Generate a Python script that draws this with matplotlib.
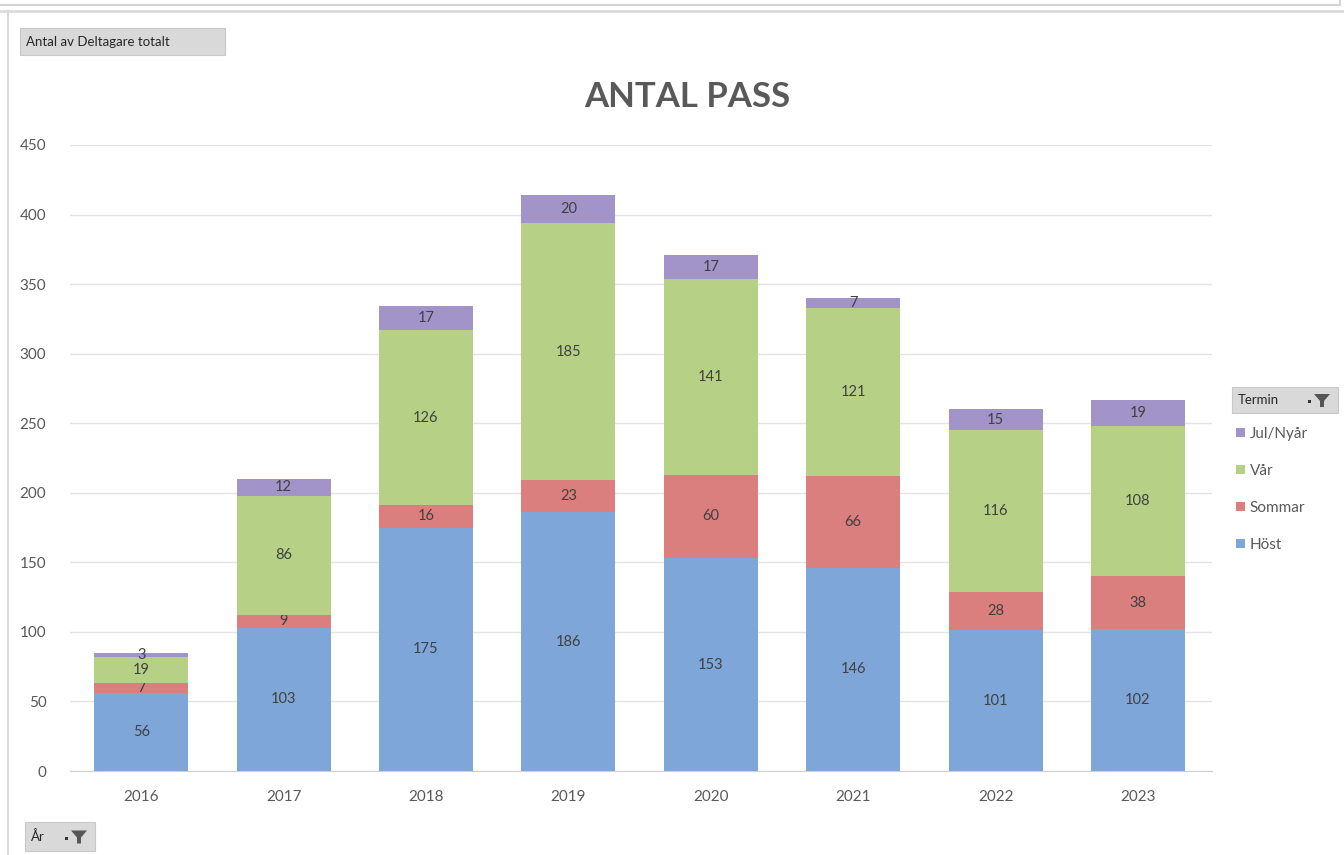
import matplotlib
matplotlib.use("Agg")
import matplotlib.pyplot as plt
from matplotlib.patches import Rectangle, Polygon
import numpy as np

years = ["2016", "2017", "2018", "2019", "2020", "2021", "2022", "2023"]
host = [56, 103, 175, 186, 153, 146, 101, 102]
sommar = [7, 9, 16, 23, 60, 66, 28, 38]
var = [19, 86, 126, 185, 141, 121, 116, 108]
jul = [3, 12, 17, 20, 17, 7, 15, 19]
series_names = ["Höst", "Sommar", "Vår", "Jul/Nyår"]
colors = ["#7ea6d8", "#da7e7e", "#b6d186", "#a294c8"]
yticks = [0, 50, 100, 150, 200, 250, 300, 350, 400, 450]

W, H = 1344, 855
plt.rcParams['font.family'] = ['Lato', 'DejaVu Sans']
fig = plt.figure(figsize=(W / 100, H / 100), dpi=100)
fig.patch.set_facecolor("white")

def fx(px):
    return px / W

def fy(py):
    return 1 - py / H

ax = fig.add_axes([fx(70), fy(771), fx(1212) - fx(70), fy(145) - fy(771)])
x = np.arange(len(years))
bottom = np.zeros(len(years))
containers = []
for vals, name, c in zip([host, sommar, var, jul], series_names, colors):
    bc = ax.bar(x, vals, width=0.66, bottom=bottom, color=c, label=name, zorder=3)
    containers.append(bc)
    ax.bar_label(bc, label_type="center", color="#404040", fontsize=10.5)
    bottom = bottom + np.array(vals)

ax.set_xlim(-0.5, 7.52)
ax.set_ylim(0, 450)
ax.set_yticks(yticks)
ax.set_xticks(x)
ax.set_xticklabels(years)
ax.grid(axis="y", color="#e3e3e3", linewidth=1, zorder=0)
for s in ["top", "right", "left"]:
    ax.spines[s].set_visible(False)
ax.spines["bottom"].set_color("#d0d0d0")
ax.tick_params(axis="both", length=0, colors="#595959", labelsize=11)
ax.tick_params(axis="y", pad=17)
ax.tick_params(axis="x", pad=14)

fig.text(fx(687), fy(97), "ANTAL PASS", ha="center", va="center",
         fontsize=25, fontweight="bold", color="#595959")

handles = containers[::-1]
leg = ax.legend(handles, [h.get_label() for h in handles], loc="upper left",
                bbox_to_anchor=(fx(1236), fy(427)), bbox_transform=fig.transFigure,
                frameon=False, handlelength=0.6, handleheight=0.6,
                handletextpad=0.3, labelspacing=1.5, fontsize=11,
                borderaxespad=0, borderpad=0)
for t in leg.get_texts():
    t.set_color("#595959")

# frame lines
fig.add_artist(Rectangle((fx(-2), fy(5)), fx(1342), fy(-5) - fy(5), transform=fig.transFigure,
                         facecolor="white", edgecolor="#d4d4d4", linewidth=1.5))
fig.add_artist(plt.Line2D([0, 1], [fy(11), fy(11)], transform=fig.transFigure,
                          color="#dadada", linewidth=2))
fig.add_artist(plt.Line2D([fx(8), fx(8)], [fy(11), 0], transform=fig.transFigure,
                          color="#dadada", linewidth=1.5))

def button(x0, y0, x1, y1, text, icon=False, tx=None):
    fig.add_artist(Rectangle((fx(x0), fy(y1)), fx(x1) - fx(x0), fy(y0) - fy(y1),
                             transform=fig.transFigure, facecolor="#d9d9d9",
                             edgecolor="#c8c8c8", linewidth=0.8))
    fig.text(fx(tx if tx else x0 + 6), fy((y0 + y1) / 2), text, ha="left", va="center",
             fontsize=9.5, color="#262626")
    if icon:
        cx = x1 - 16
        cy = (y0 + y1) / 2
        pts = [(cx - 8, cy - 6), (cx + 8, cy - 6), (cx + 2, cy + 1), (cx + 2, cy + 7),
               (cx - 2, cy + 7), (cx - 2, cy + 1)]
        fig.add_artist(Polygon([(fx(a), fy(b)) for a, b in pts], closed=True,
                               transform=fig.transFigure, facecolor="#555555", edgecolor="none"))
        fig.add_artist(Rectangle((fx(cx - 14), fy(cy + 3)), fx(3), fy(cy) - fy(cy + 3),
                                 transform=fig.transFigure, facecolor="#333333", edgecolor="none"))

button(20, 28, 225, 55, "Antal av Deltagare totalt")
button(25, 822, 95, 851, "År", icon=True)
button(1232, 387, 1338, 413, "Termin", icon=True)

fig.savefig("out.png", dpi=100, facecolor="white")
